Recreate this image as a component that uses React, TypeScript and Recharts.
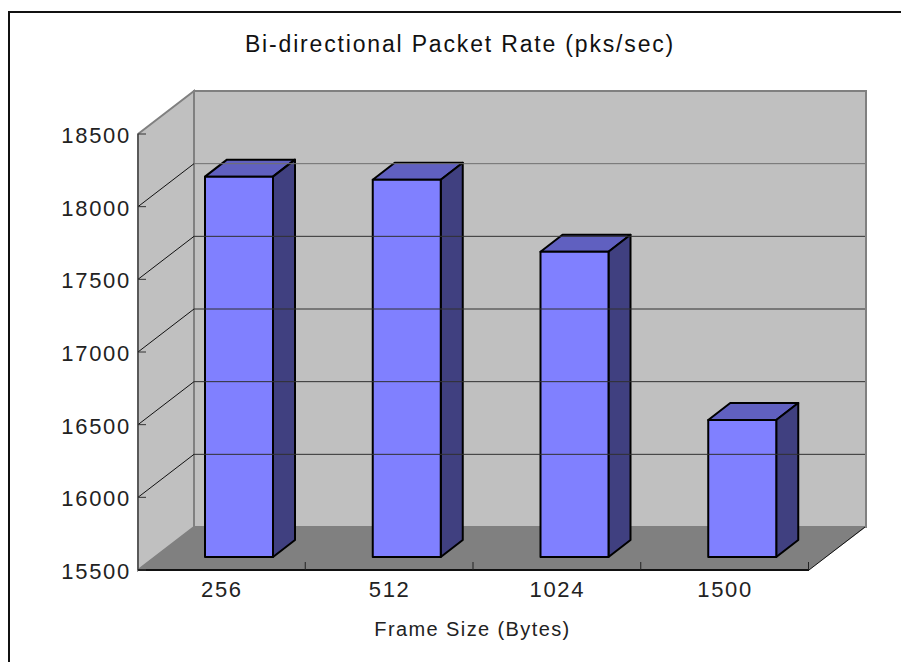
import { Bar, BarChart, ReferenceArea, ReferenceLine, XAxis, YAxis } from "recharts";

const frameSizes = ["256", "512", "1024", "1500"];
const packetRates = [18117, 18096, 17600, 16443];
const yTicks = [15500, 16000, 16500, 17000, 17500, 18000, 18500];

const chartData = frameSizes.map((size, i) => ({ size, rate: packetRates[i] }));

const FONT = '"Liberation Sans", Arial, sans-serif';
const TEXT_COLOR = "#222222";
// 3D look: wall depth and how far the bars sit in from the front edge
const DEPTH_X = 56;
const DEPTH_Y = 43;
const BAR_DX = 17;
const BAR_DY = 13;
const BAR_DEPTH_X = 22;
const BAR_DEPTH_Y = 17;
const SLOT = 671 / frameSizes.length;

function Walls({ x, y, width, height }: any) {
  const bottom = y + height;
  const right = x + width;
  return (
    <g>
      <rect x={x + DEPTH_X} y={y - DEPTH_Y} width={width + 1} height={height} fill="#c0c0c0" stroke="#808080" strokeWidth={2} />
      <polygon
        points={`${x},${y} ${x + DEPTH_X},${y - DEPTH_Y} ${x + DEPTH_X},${bottom - DEPTH_Y} ${x},${bottom}`}
        fill="#c0c0c0"
        stroke="#808080"
        strokeWidth={2}
      />
      <polygon
        points={`${x},${bottom} ${x + DEPTH_X},${bottom - DEPTH_Y} ${right + DEPTH_X + 1},${bottom - DEPTH_Y} ${right},${bottom}`}
        fill="#808080"
      />
      <line x1={x} y1={y} x2={x} y2={bottom} stroke="#333333" />
      <line x1={x} y1={bottom} x2={right} y2={bottom} stroke="#111111" strokeWidth={2} />
      <line x1={right} y1={bottom} x2={right + DEPTH_X} y2={bottom - DEPTH_Y} stroke="#111111" />
    </g>
  );
}

function GridLine({ x1, y1, x2, y2, value }: any) {
  const top = y1 ?? y2;
  const color = value === 18000 ? "#707070" : "#303030";
  return (
    <g>
      <line x1={x1} y1={top} x2={x1 + DEPTH_X} y2={top - DEPTH_Y} stroke="#111111" />
      <line x1={x1 + DEPTH_X} y1={top - DEPTH_Y} x2={x2 + DEPTH_X} y2={top - DEPTH_Y} stroke={color} />
    </g>
  );
}

function Box({ x, y, width, height }: any) {
  const left = x + BAR_DX;
  const top = y - BAR_DY;
  const right = left + width;
  const bottom = top + height;
  const line = { stroke: "#000000", strokeWidth: 2, strokeLinejoin: "round" as const };
  return (
    <g>
      <polygon
        points={`${left},${top} ${left + BAR_DEPTH_X},${top - BAR_DEPTH_Y} ${right + BAR_DEPTH_X},${top - BAR_DEPTH_Y} ${right},${top}`}
        fill="#6060c0"
        {...line}
      />
      <polygon
        points={`${right},${top} ${right + BAR_DEPTH_X},${top - BAR_DEPTH_Y} ${right + BAR_DEPTH_X},${bottom - BAR_DEPTH_Y} ${right},${bottom}`}
        fill="#404080"
        {...line}
      />
      <rect x={left} y={top} width={width} height={height} fill="#8080ff" {...line} />
    </g>
  );
}

function YTick({ x, y, payload }: any) {
  return (
    <g>
      <line x1={x + 8} y1={y} x2={x + 16} y2={y} stroke="#333333" />
      <text x={x + 1} y={y + 9} textAnchor="end" fontFamily={FONT} fontSize={22} letterSpacing={1.7} fill={TEXT_COLOR}>
        {payload.value}
      </text>
    </g>
  );
}

function XTick({ x, y, payload }: any) {
  const edge = x + SLOT / 2 - 0.5;
  return (
    <g>
      <line x1={edge} y1={y - 16} x2={edge} y2={y - 8} stroke="#222222" />
      <text x={x} y={y + 19} textAnchor="middle" fontFamily={FONT} fontSize={22} letterSpacing={1.7} fill={TEXT_COLOR}>
        {payload.value}
      </text>
    </g>
  );
}

export default function App() {
  return (
    <div style={{ position: "absolute", left: 0, top: 0, width: 901, height: 662, overflow: "hidden", background: "#fff" }}>
      <div
        style={{
          position: "absolute",
          left: 8,
          top: 11,
          width: 910,
          height: 670,
          border: "2px solid #111",
        }}
      />
      <div
        style={{
          position: "absolute",
          left: 0,
          top: 31,
          width: 920,
          textAlign: "center",
          fontFamily: FONT,
          fontSize: 23,
          letterSpacing: 1.83,
          color: "#111",
        }}
      >
        Bi-directional Packet Rate (pks/sec)
      </div>
      <div
        style={{
          position: "absolute",
          left: 0,
          top: 618,
          width: 945,
          textAlign: "center",
          fontFamily: FONT,
          fontSize: 20,
          letterSpacing: 1.4,
          color: TEXT_COLOR,
        }}
      >
        Frame Size (Bytes)
      </div>
      <BarChart
        width={901}
        height={662}
        data={chartData}
        margin={{ top: 134, right: 92, bottom: 0, left: 0 }}
        style={{ position: "absolute", left: 0, top: 0 }}
      >
        <XAxis dataKey="size" height={92} axisLine={false} tickLine={false} interval={0} tick={<XTick />} />
        <YAxis
          width={138}
          domain={[15500, 18500]}
          ticks={yTicks}
          axisLine={false}
          tickLine={false}
          interval={0}
          tick={<YTick />}
        />
        <ReferenceArea y1={15500} y2={18500} shape={<Walls />} ifOverflow="visible" />
        {yTicks.slice(1, -1).map((tick) => (
          <ReferenceLine key={tick} y={tick} shape={<GridLine value={tick} />} ifOverflow="visible" />
        ))}
        <Bar dataKey="rate" barSize={68} shape={<Box />} isAnimationActive={false} />
      </BarChart>
    </div>
  );
}
